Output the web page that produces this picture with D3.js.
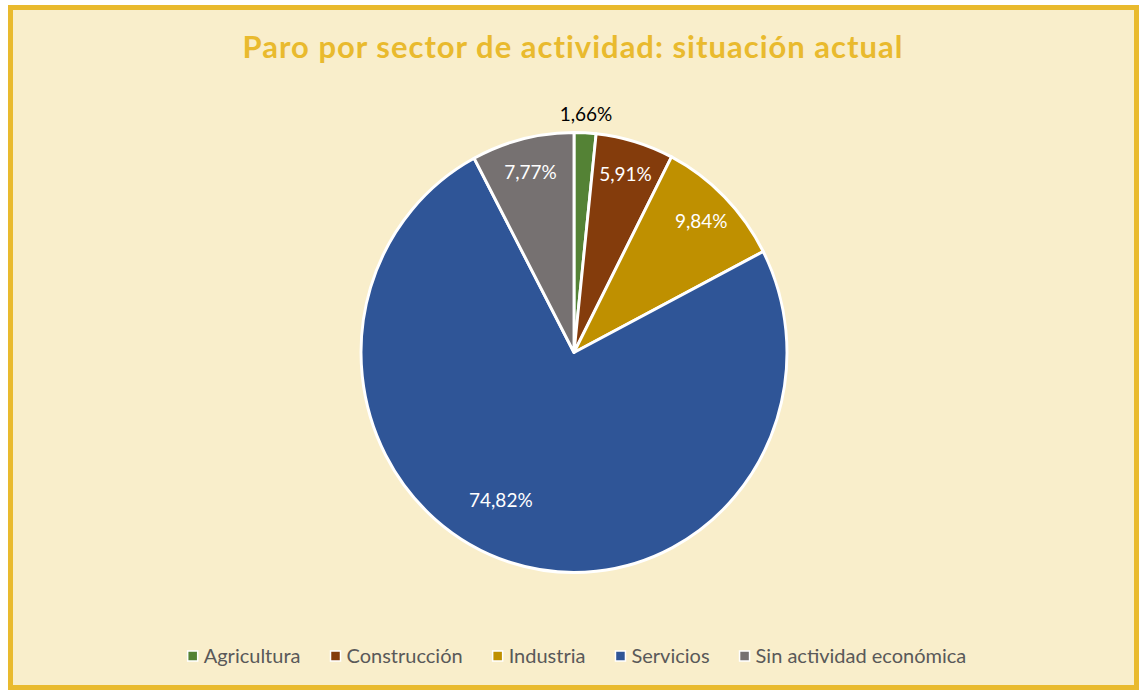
<!DOCTYPE html>
<html>
<head>
<meta charset="utf-8">
<script src="https://cdn.jsdelivr.net/npm/d3@7"></script>
<style>
  body { margin: 0; background: #fff; }
  text { font-family: Lato, "Open Sans", sans-serif; }
</style>
</head>
<body>
<div id="chart"></div>
<script>
let width = 1140,
    height = 690;

// data
let categories = ['Agricultura', 'Construcción', 'Industria', 'Servicios', 'Sin actividad económica'];
let values = [1.66, 5.91, 9.84, 74.82, 7.77];
let labels = ['1,66%', '5,91%', '9,84%', '74,82%', '7,77%'];
let colors = ['#548235', '#843c0c', '#bf9000', '#2f5597', '#767171'];
let title = 'Paro por sector de actividad: situación actual';

let cx = 574, cy = 352.5;
let radius = 220;
let xSquash = 0.968; // pie is a bit narrower than tall in the original

let svg = d3.select('#chart')
  .append('svg')
  .attr('width', width)
  .attr('height', height);

// background + border
svg.append('rect')
  .attr('x', 10.5).attr('y', 7.5)
  .attr('width', 1126).attr('height', 680)
  .style('fill', '#f9eecb')
  .style('stroke', '#e9ba2e')
  .style('stroke-width', 5);

// title
svg.append('text')
  .attr('x', 573)
  .attr('y', 58)
  .attr('text-anchor', 'middle')
  .style('font-size', '31px')
  .style('font-weight', 'bold')
  .style('letter-spacing', '1px')
  .style('fill', '#e9ba2e')
  .text(title);

let pie = d3.pie().sort(null).value(function(d){ return d; });
let arcs = pie(values);

let arc = d3.arc().innerRadius(0).outerRadius(radius);

let g = svg.append('g')
  .attr('transform', 'translate(' + cx + ',' + cy + ') scale(' + xSquash + ',1)');

g.selectAll('path')
  .data(arcs)
  .enter()
  .append('path')
  .attr('d', arc)
  .style('fill', function(d, i){ return colors[i]; })
  .style('stroke', '#fff')
  .style('stroke-width', 3)
  .style('stroke-linejoin', 'round');

// labels: small slice outside, the rest inside
let insideArc = d3.arc().innerRadius(186).outerRadius(186);
let outsideArc = d3.arc().innerRadius(238).outerRadius(238);
let bigArc = d3.arc().innerRadius(166).outerRadius(166);

let lbl = svg.append('g')
  .attr('transform', 'translate(' + cx + ',' + cy + ')');

lbl.selectAll('text')
  .data(arcs)
  .enter()
  .append('text')
  .attr('transform', function(d){
    let p;
    if (d.value < 3) {
      p = outsideArc.centroid(d);
    } else if (d.value > 50) {
      // Excel best fit nudges the big label round a little
      let shift = 0.17;
      p = bigArc.centroid({startAngle: d.startAngle + shift, endAngle: d.endAngle + shift});
    } else {
      p = insideArc.centroid(d);
    }
    return 'translate(' + (p[0] * xSquash) + ',' + p[1] + ')';
  })
  .attr('text-anchor', 'middle')
  .attr('dy', '0.35em')
  .style('font-size', '19px')
  .style('fill', function(d){ return d.value < 3 ? '#000' : '#fff'; })
  .text(function(d, i){ return labels[i]; });

// legend
let legend = svg.append('g');
let items = legend.selectAll('g.item')
  .data(categories)
  .enter()
  .append('g')
  .attr('class', 'item');

items.append('rect')
  .attr('x', 0).attr('y', -5)
  .attr('width', 10).attr('height', 10)
  .style('fill', function(d, i){ return colors[i]; })
  .style('stroke', '#fff')
  .style('stroke-width', 1.5);

items.append('text')
  .attr('x', 16)
  .attr('dy', '0.35em')
  .style('font-size', '20px')
  .style('fill', '#595959')
  .text(function(d){ return d; });

// lay the legend out in a row, centred
let gap = 30;
let offset = 0;
items.each(function(){
  let w = 16 + this.querySelector('text').getComputedTextLength();
  d3.select(this).attr('transform', 'translate(' + offset + ',0)');
  offset += w + gap;
});
let total = offset - gap;
legend.attr('transform', 'translate(' + (577 - total / 2) + ',656)');
</script>
</body>
</html>
